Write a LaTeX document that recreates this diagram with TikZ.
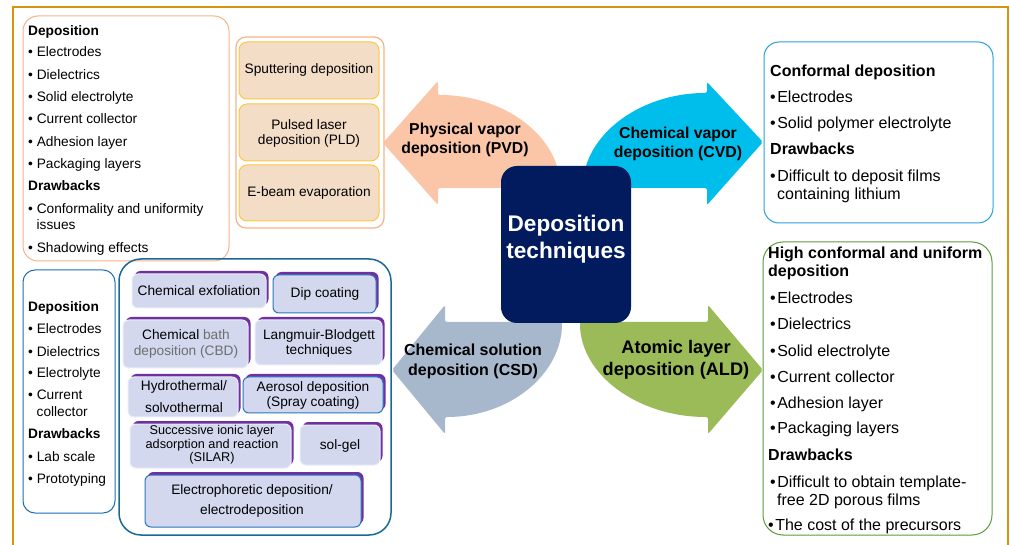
\documentclass[tikz,border=0pt]{standalone}
\usepackage{fontspec}
\setmainfont{Liberation Sans}
\definecolor{framec}{RGB}{214,148,12}
\definecolor{orab}{RGB}{248,178,138}
\definecolor{pvdfill}{RGB}{243,221,199}
\definecolor{pvdline}{RGB}{250,200,70}
\definecolor{pvdc}{RGB}{250,198,167}
\definecolor{cvdc}{RGB}{0,190,236}
\definecolor{csdc}{RGB}{168,184,204}
\definecolor{aldc}{RGB}{155,187,89}
\definecolor{navyc}{RGB}{1,27,94}
\definecolor{cvdb}{RGB}{40,160,220}
\definecolor{aldb}{RGB}{95,155,60}
\definecolor{csdb}{RGB}{30,110,180}
\definecolor{csdcont}{RGB}{25,105,150}
\definecolor{purp}{RGB}{112,48,160}
\definecolor{lavc}{RGB}{211,216,238}
\definecolor{lavb}{RGB}{232,236,247}
\definecolor{blueb}{RGB}{40,120,190}
\definecolor{greyt}{RGB}{110,110,110}
\newcommand\csdbox[5]{%
  \fill[purp, rounded corners=6pt, shift={(2.5,-3)}] (#1,#2) rectangle (#3,#4);
  \draw[fill=lavc, draw=#5, line width=1pt, rounded corners=6pt] (#1,#2) rectangle (#3,#4);}
\begin{document}
\begin{tikzpicture}[x=1pt,y=-1pt,
  lt/.style={anchor=base west, inner sep=0pt, font=\fontsize{13.7}{16}\selectfont},
  rt/.style={anchor=base west, inner sep=0pt, font=\fontsize{16}{19}\selectfont},
  boxt/.style={inner sep=0pt, align=center, font=\fontsize{13.7}{15}\selectfont},
  arrt/.style={inner sep=0pt, align=center, font=\fontsize{15.8}{19}\selectfont\bfseries},
  infobox/.style={line width=1pt, rounded corners=15pt}]
\useasboundingbox (0,0) rectangle (1010,545);
\fill[white] (0,0) rectangle (1010,545);
% frame
\draw[framec, line width=2pt] (13,547) -- (13,7) -- (1008,7) -- (1008,547);

% ---------- arrows ----------
\fill[pvdc, rounded corners=2pt] (383,143) -- (438,81) -- (438,95)
  .. controls (505,95) and (560,137) .. (560,188) -- (438,188) -- (438,205) -- cycle;
\fill[cvdc, rounded corners=2pt] (763,142) -- (707,82) -- (707,93)
  .. controls (639,93) and (583,136) .. (583,188) -- (707,188) -- (707,205) -- cycle;
\fill[csdc, rounded corners=2pt] (392,370) -- (445,305) -- (445,322) -- (562,322)
  .. controls (562,374) and (510,417) .. (445,417) -- (445,434) -- cycle;
\fill[aldc, rounded corners=2pt] (763,370) -- (708,305) -- (708,322) -- (580,322)
  .. controls (580,374) and (637,417) .. (708,417) -- (708,434) -- cycle;

\node[arrt] (pvdt) at (465,140) {Physical vapor\\deposition (PVD)};
\node[arrt] (cvdt) at (678,144) {Chemical vapor\\deposition (CVD)};
\node[arrt, font=\fontsize{16}{20}\selectfont\bfseries] (csdt) at (473,361) {Chemical solution\\deposition (CSD)};
\node[arrt, font=\fontsize{18.2}{22}\selectfont\bfseries] (aldt) at (676,360) {Atomic layer\\deposition (ALD)};

% ---------- centre ----------
\fill[navyc, rounded corners=16pt] (501,166) rectangle (631,323);
\node[inner sep=0pt, align=center, text=white, font=\fontsize{22.6}{27}\selectfont\bfseries] (centre) at (566,239) {Deposition\\techniques};

% ---------- PVD info ----------
\draw[orab, infobox] (23,16) rectangle (229,261);
\foreach \xx/\yy/\txt [count=\i] in {28/31/{\textbf{Deposition}}, 28/52/{• Electrodes}, 28/75/{• Dielectrics},
  28/97/{• Solid electrolyte}, 28/119/{• Current collector}, 28/142/{• Adhesion layer},
  28/164/{• Packaging layers}, 28/186/{\textbf{Drawbacks}}, 28/209/{• Conformality and uniformity},
  36.5/225/{issues}, 28/248/{• Shadowing effects}}
  \node[lt] (pvdi\i) at (\xx,\yy+4.7) {\txt};

% PVD techniques
\draw[orab, line width=1.2pt, rounded corners=10pt] (236,37) rectangle (384,228);
\draw[fill=pvdfill, draw=pvdline, line width=1pt, rounded corners=8pt] (239,42) rectangle (379,99);
\draw[fill=pvdfill, draw=pvdline, line width=1pt, rounded corners=8pt] (239,104) rectangle (379,161);
\draw[fill=pvdfill, draw=pvdline, line width=1pt, rounded corners=8pt] (239,165) rectangle (379,221);
\node[boxt] (sput) at (309,70) {Sputtering deposition};
\node[boxt] (pld) at (309,133) {Pulsed laser\\deposition (PLD)};
\node[boxt] (ebeam) at (309,193) {E-beam evaporation};

% ---------- CVD info ----------
\draw[cvdb, infobox] (764,42) rectangle (993,223);
\foreach \xx/\yy/\txt [count=\i] in {770/71/{\textbf{Conformal deposition}}, 770/97/{•\hspace{1.5pt}Electrodes},
  770/123/{•\hspace{1.5pt}Solid polymer electrolyte}, 770/149/{\textbf{Drawbacks}},
  770/176/{•\hspace{1.5pt}Difficult to deposit films}, 777/194/{containing lithium}}
  \node[rt] (cvdi\i) at (\xx,\yy+5.6) {\txt};

% ---------- ALD info ----------
\draw[aldb, line width=1pt, rounded corners=20pt] (763,242) rectangle (992,535);
\foreach \xx/\yy/\txt [count=\i] in {768/253/{\textbf{High conformal and uniform}}, 768/271/{\textbf{deposition}},
  770/298/{•\hspace{1.5pt}Electrodes}, 770/324/{•\hspace{1.5pt}Dielectrics},
  770/351/{•\hspace{1.5pt}Solid electrolyte}, 770/377/{•\hspace{1.5pt}Current collector},
  770/403/{•\hspace{1.5pt}Adhesion layer}, 770/428/{•\hspace{1.5pt}Packaging layers},
  768/455/{\textbf{Drawbacks}}, 770/482/{•\hspace{1.5pt}Difficult to obtain template-},
  777/500/{free 2D porous films}, 768/525/{•\hspace{1.5pt}The cost of the precursors}}
  \node[rt] (aldi\i) at (\xx,\yy+5.6) {\txt};

% ---------- CSD info ----------
\draw[csdb, line width=1pt, rounded corners=12pt] (23,270) rectangle (115,513);
\foreach \xx/\yy/\txt [count=\i] in {28/307/{\textbf{Deposition}}, 28/329/{• Electrodes}, 28/352/{• Dielectrics},
  28/373/{• Electrolyte}, 28/395/{• Current}, 36.5/412/{collector}, 28/434/{\textbf{Drawbacks}},
  28/457/{• Lab scale}, 28/479/{• Prototyping}}
  \node[lt] (csdi\i) at (\xx,\yy+4.7) {\txt};

% ---------- CSD techniques ----------
\draw[csdcont, line width=1.5pt, rounded corners=22pt] (119,259) rectangle (391,535);
\csdbox{132}{274}{266}{308}{lavb}
\csdbox{273}{275}{376}{313}{blueb}
\csdbox{123}{320}{248}{368}{lavb}
\csdbox{255}{320}{382}{365}{lavb}
\csdbox{128}{377}{238}{417}{lavb}
\csdbox{243}{377}{383}{413}{blueb}
\csdbox{130}{424}{291}{468}{lavb}
\csdbox{300}{425}{380}{465}{lavb}
\csdbox{145}{475}{361}{527}{blueb}
\node[boxt] (exf) at (199,291) {Chemical exfoliation};
\node[boxt] (dip) at (325,294) {Dip coating};
\node[boxt, font=\fontsize{13.7}{16}\selectfont] (cbd) at (186,344) {Chemical \textcolor{greyt}{bath}\\\textcolor{greyt}{deposition (CBD)}};
\node[boxt] (lb) at (319,343) {Langmuir-Blodgett\\techniques};
\node[boxt, font=\fontsize{13.7}{22}\selectfont] (hydro) at (184,397) {Hydrothermal/\\solvothermal};
\node[boxt] (aer) at (313,395) {Aerosol deposition\\(Spray coating)};
\node[boxt, font=\fontsize{12.7}{13.6}\selectfont] (silar) at (212,445) {Successive ionic layer\\adsorption and reaction\\(SILAR)};
\node[boxt] (solgel) at (340,446) {sol-gel};
\node[boxt, font=\fontsize{13.7}{20}\selectfont] (epd) at (252,501) {Electrophoretic deposition/\\electrodeposition};
\end{tikzpicture}
\end{document}
